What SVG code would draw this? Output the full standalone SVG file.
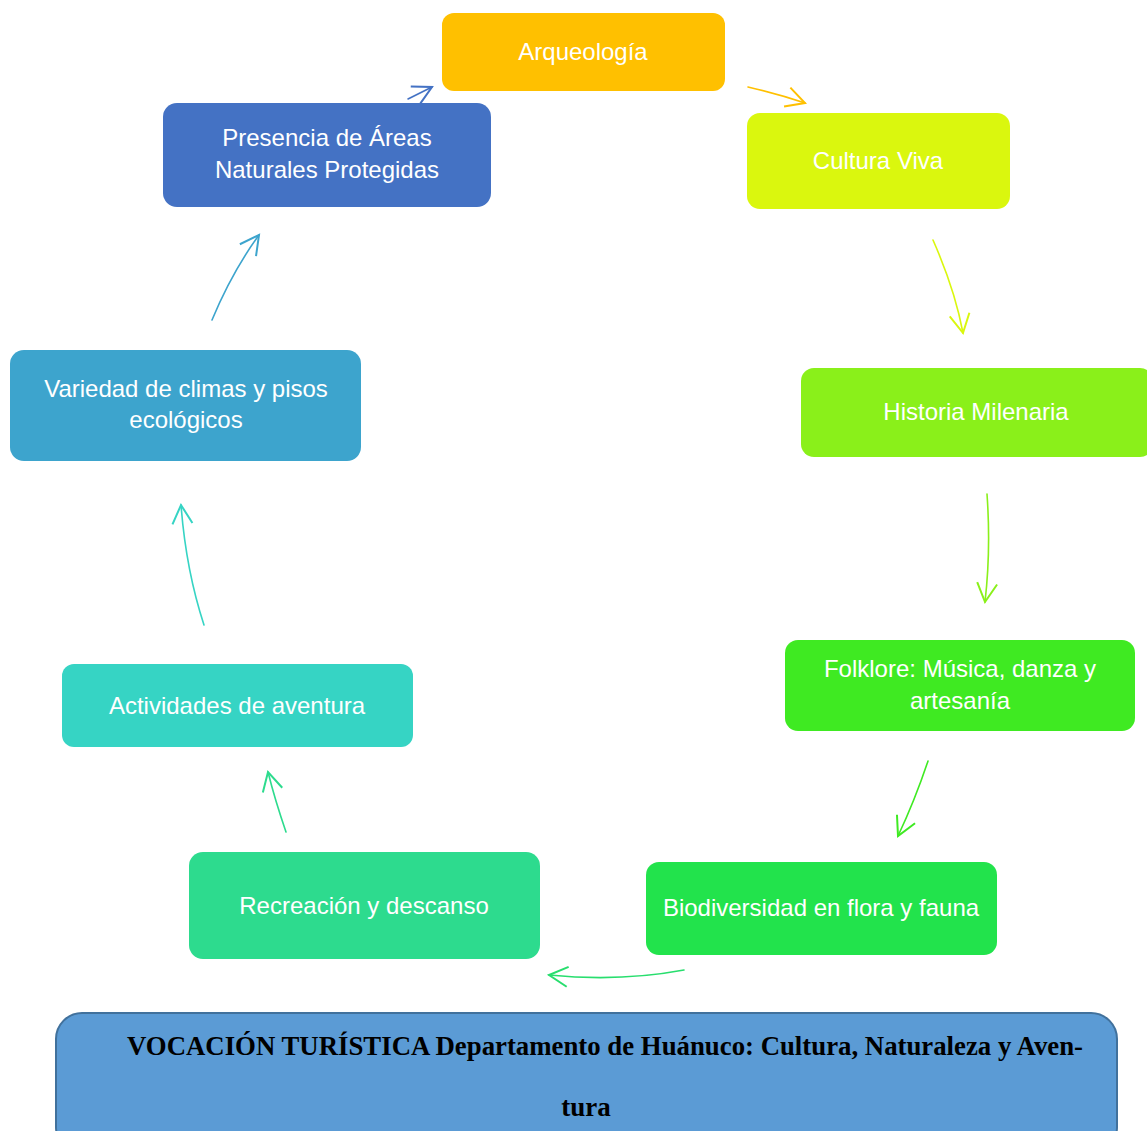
<svg xmlns="http://www.w3.org/2000/svg" width="1147" height="1131" viewBox="0 0 1147 1131">
<defs>
<style>
.lbl{font-family:"Liberation Sans",Arial,sans-serif;font-size:24px;fill:#ffffff;text-anchor:middle}
.con{fill:none;stroke-width:1.6;stroke-linecap:round}
.title{font-family:"Liberation Serif","Times New Roman",serif;font-weight:bold;font-size:27px;fill:#000000}
</style>
<marker id="m1" markerUnits="userSpaceOnUse" markerWidth="30" markerHeight="30" viewBox="-20 -12 24 24" refX="0" refY="0" orient="auto"><path d="M-15,-8 L0,0 L-15,8" fill="none" stroke="#4472C4" stroke-width="1.6"/></marker>
<marker id="m2" markerUnits="userSpaceOnUse" markerWidth="30" markerHeight="30" viewBox="-20 -12 24 24" refX="0" refY="0" orient="auto"><path d="M-15,-8 L0,0 L-15,8" fill="none" stroke="#FFC000" stroke-width="1.6"/></marker>
<marker id="m3" markerUnits="userSpaceOnUse" markerWidth="30" markerHeight="30" viewBox="-20 -12 24 24" refX="0" refY="0" orient="auto"><path d="M-15,-8 L0,0 L-15,8" fill="none" stroke="#DAF70E" stroke-width="1.6"/></marker>
<marker id="m4" markerUnits="userSpaceOnUse" markerWidth="30" markerHeight="30" viewBox="-20 -12 24 24" refX="0" refY="0" orient="auto"><path d="M-15,-8 L0,0 L-15,8" fill="none" stroke="#8AF01A" stroke-width="1.6"/></marker>
<marker id="m5" markerUnits="userSpaceOnUse" markerWidth="30" markerHeight="30" viewBox="-20 -12 24 24" refX="0" refY="0" orient="auto"><path d="M-15,-8 L0,0 L-15,8" fill="none" stroke="#3FEA22" stroke-width="1.6"/></marker>
<marker id="m6" markerUnits="userSpaceOnUse" markerWidth="30" markerHeight="30" viewBox="-20 -12 24 24" refX="0" refY="0" orient="auto"><path d="M-15,-8 L0,0 L-15,8" fill="none" stroke="#28DE6E" stroke-width="1.6"/></marker>
<marker id="m7" markerUnits="userSpaceOnUse" markerWidth="30" markerHeight="30" viewBox="-20 -12 24 24" refX="0" refY="0" orient="auto"><path d="M-15,-8 L0,0 L-15,8" fill="none" stroke="#2DDB8E" stroke-width="1.6"/></marker>
<marker id="m8" markerUnits="userSpaceOnUse" markerWidth="30" markerHeight="30" viewBox="-20 -12 24 24" refX="0" refY="0" orient="auto"><path d="M-15,-8 L0,0 L-15,8" fill="none" stroke="#36D4C4" stroke-width="1.6"/></marker>
<marker id="m9" markerUnits="userSpaceOnUse" markerWidth="30" markerHeight="30" viewBox="-20 -12 24 24" refX="0" refY="0" orient="auto"><path d="M-15,-8 L0,0 L-15,8" fill="none" stroke="#3DA4CD" stroke-width="1.6"/></marker>
</defs>
<rect width="1147" height="1131" fill="#ffffff"/>
<g id="connectors">
<path class="con" d="M408,99 L432,87" stroke="#4472C4" marker-end="url(#m1)"/>
<path class="con" d="M748,87 Q778,94 805,103" stroke="#FFC000" marker-end="url(#m2)"/>
<path class="con" d="M933,240 Q955,290 963,333" stroke="#DAF70E" marker-end="url(#m3)"/>
<path class="con" d="M987,494 Q991,550 985,602" stroke="#8AF01A" marker-end="url(#m4)"/>
<path class="con" d="M928,761 Q915,800 898,836" stroke="#3FEA22" marker-end="url(#m5)"/>
<path class="con" d="M684,970 Q620,982 549,975" stroke="#28DE6E" marker-end="url(#m6)"/>
<path class="con" d="M286,832 Q275,800 268,772" stroke="#2DDB8E" marker-end="url(#m7)"/>
<path class="con" d="M204,625 Q186,570 181,505" stroke="#36D4C4" marker-end="url(#m8)"/>
<path class="con" d="M212,320 Q232,272 259,235" stroke="#3DA4CD" marker-end="url(#m9)"/>
</g>
<g id="arqueologia">
<rect x="442" y="13" width="283" height="78" rx="12" fill="#FFC000"/>
<text class="lbl" x="583" y="60">Arqueología</text>
</g>
<g id="cultura-viva">
<rect x="747" y="113" width="263" height="96" rx="13" fill="#DAF70E"/>
<text class="lbl" x="878" y="169">Cultura Viva</text>
</g>
<g id="historia-milenaria">
<rect x="801" y="368" width="352" height="89" rx="13" fill="#8AF01A"/>
<text class="lbl" x="976" y="420">Historia Milenaria</text>
</g>
<g id="folklore">
<rect x="785" y="640" width="350" height="91" rx="13" fill="#3FEA22"/>
<text class="lbl" x="960" y="677">Folklore: Música, danza y</text>
<text class="lbl" x="960" y="709">artesanía</text>
</g>
<g id="biodiversidad">
<rect x="646" y="862" width="351" height="93" rx="13" fill="#22E34C"/>
<text class="lbl" x="821" y="916">Biodiversidad en flora y fauna</text>
</g>
<g id="recreacion">
<rect x="189" y="852" width="351" height="107" rx="14" fill="#2DDB8E"/>
<text class="lbl" x="364" y="914">Recreación y descanso</text>
</g>
<g id="actividades">
<rect x="62" y="664" width="351" height="83" rx="12" fill="#36D4C4"/>
<text class="lbl" x="237" y="714">Actividades de aventura</text>
</g>
<g id="variedad">
<rect x="10" y="350" width="351" height="111" rx="14" fill="#3DA4CD"/>
<text class="lbl" x="186" y="397">Variedad de climas y pisos</text>
<text class="lbl" x="186" y="428">ecológicos</text>
</g>
<g id="presencia">
<rect x="163" y="103" width="328" height="104" rx="14" fill="#4472C4"/>
<text class="lbl" x="327" y="146">Presencia de Áreas</text>
<text class="lbl" x="327" y="178">Naturales Protegidas</text>
</g>
<g id="vocacion">
<rect x="56" y="1013" width="1061" height="140" rx="26" fill="#5B9BD5" stroke="#41719C" stroke-width="2"/>
<text class="title" x="127" y="1055" textLength="956" lengthAdjust="spacingAndGlyphs">VOCACIÓN TURÍSTICA Departamento de Huánuco: Cultura, Naturaleza y Aven-</text>
<text class="title" x="586" y="1116" text-anchor="middle">tura</text>
</g>
</svg>
